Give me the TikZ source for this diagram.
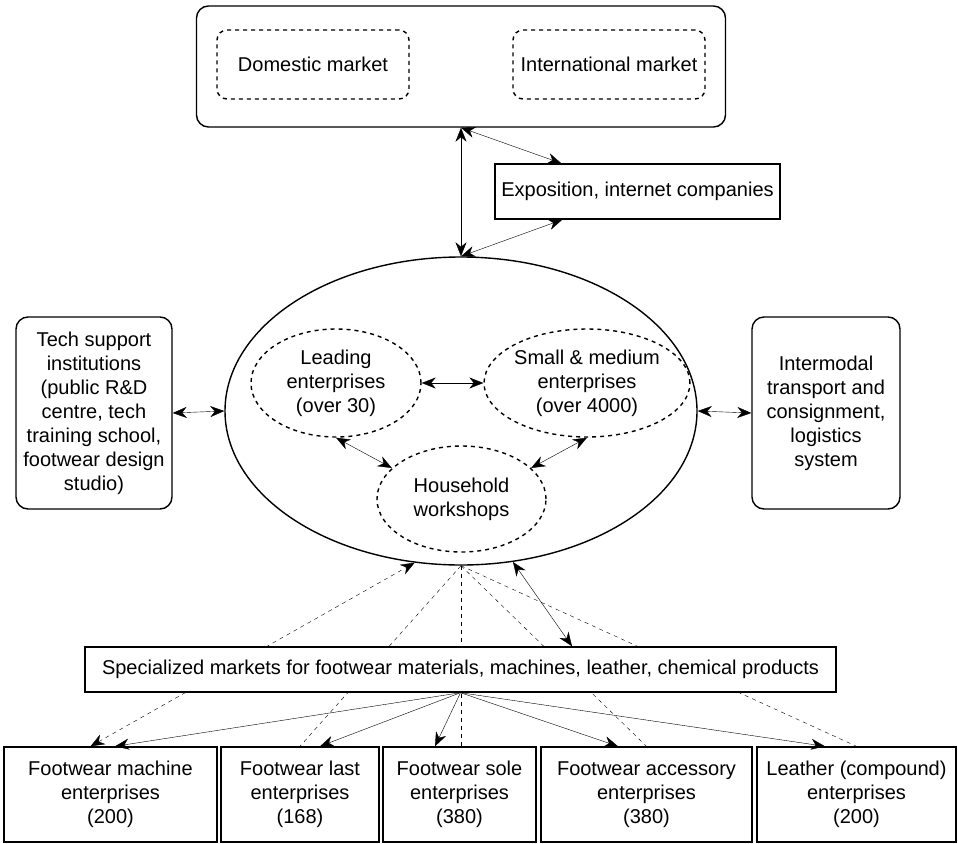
\documentclass[tikz,border=0pt]{standalone}
\usepackage{fontspec}
\setmainfont{Liberation Sans}
\usetikzlibrary{shapes.geometric,arrows.meta}
\pgfdeclarelayer{bg}
\pgfsetlayers{bg,main}
\tikzset{
  arr/.style={-{Stealth[length=14pt,width=11pt,inset=4.5pt]}},
  dbl/.style={{Stealth[length=14pt,width=11pt,inset=4.5pt]}-{Stealth[length=14pt,width=11pt,inset=4.5pt]}},
  bx/.style={draw, fill=white, inner sep=0pt, align=center},
  rbx/.style={bx, rounded corners=12pt},
  dsh/.style={dash pattern=on 4pt off 4pt},
  ell/.style={ellipse, draw, inner sep=0pt, align=center}}
\begin{document}
\begin{tikzpicture}[x=1pt,y=-1pt,
  font=\fontsize{20}{24}\selectfont, line width=1.4pt]
\useasboundingbox (0,0) rectangle (958,843);
% top market box
\node[rbx, minimum width=529pt, minimum height=121pt] (top) at (461,66.5) {};
\node[rbx, dsh, rounded corners=10pt, minimum width=192pt, minimum height=69pt] (dom) at (313,64.5) {Domestic market};
\node[rbx, dsh, rounded corners=10pt, minimum width=192pt, minimum height=69pt] (intl) at (609,64.5) {International market};
\node[bx, minimum width=285pt, minimum height=55pt] (expo) at (637.5,191.5) {Exposition, internet companies};
% cluster ellipse
\node[ell, fill=white, minimum width=472pt, minimum height=308pt] (big) at (461,411) {};
\node[ell, dsh, minimum width=170pt, minimum height=108pt] (lead) at (336,383) {Leading\\enterprises\\(over 30)};
\node[ell, dsh, minimum width=170pt, minimum height=108pt] (sme) at (587,383) {Small \& medium\\enterprises\\(over 4000)};
\node[ell, dsh, minimum width=169pt, minimum height=106pt] (house) at (461.5,499) {Household\\workshops};
% side boxes
\node[rbx, minimum width=156pt, minimum height=192pt] (tech) at (94,413) {Tech support\\institutions\\(public R\&D\\centre, tech\\training school,\\footwear design\\studio)};
\node[rbx, minimum width=148pt, minimum height=192pt] (inter) at (826,413) {Intermodal\\transport and\\consignment,\\logistics\\system};
% specialized markets
\node[bx, minimum width=751pt, minimum height=45pt] (spec) at (460.5,669.5) {Specialized markets for footwear materials, machines, leather, chemical products};
% bottom enterprises
\node[bx, minimum width=213pt, minimum height=95pt] (b1) at (110.5,794.5) {Footwear machine\\enterprises\\(200)};
\node[bx, minimum width=158pt, minimum height=95pt] (b2) at (300,794.5) {Footwear last\\enterprises\\(168)};
\node[bx, minimum width=153pt, minimum height=95pt] (b3) at (459.5,794.5) {Footwear sole\\enterprises\\(380)};
\node[bx, minimum width=211pt, minimum height=95pt] (b4) at (646.5,794.5) {Footwear accessory\\enterprises\\(380)};
\node[bx, minimum width=199pt, minimum height=95pt] (b5) at (856.5,794.5) {Leather (compound)\\enterprises\\(200)};
% dashed links behind boxes
\begin{pgfonlayer}{bg}
\draw[dsh, dbl] ([xshift=-20pt]b1.north) -- (big.253);
\draw[dsh] (big.south) -- (b2.north);
\draw[dsh] (big.south) -- (big.south |- b3.north);
\draw[dsh] (big.south) -- (b4.north);
\draw[dsh] (big.south) -- (b5.north);
\end{pgfonlayer}
% solid links
\draw[dbl] (top.south) -- (big.north);
\draw[dbl] (top.south) -- ([xshift=67pt]expo.north west);
\draw[dbl] (big.north) -- ([xshift=68pt]expo.south west);
\draw[dbl] (tech.east) -- (big.west);
\draw[dbl] (big.east) -- (inter.west);
\draw[dbl] (lead.east) -- (sme.west);
\draw[dbl] (lead.south) -- (house.156);
\draw[dbl] (sme.south) -- (house.24);
\draw[dbl] (big.289) -- ([xshift=111.5pt]spec.north);
\draw[arr] (spec.south) -- ([xshift=4.5pt]b1.north);
\draw[arr] (spec.south) -- ([xshift=20pt]b2.north);
\draw[arr] (spec.south) -- ([xshift=-24.5pt]b3.north);
\draw[arr] (spec.south) -- ([xshift=-28.5pt]b4.north);
\draw[arr] (spec.south) -- ([xshift=-31.5pt]b5.north);
\end{tikzpicture}
\end{document}
